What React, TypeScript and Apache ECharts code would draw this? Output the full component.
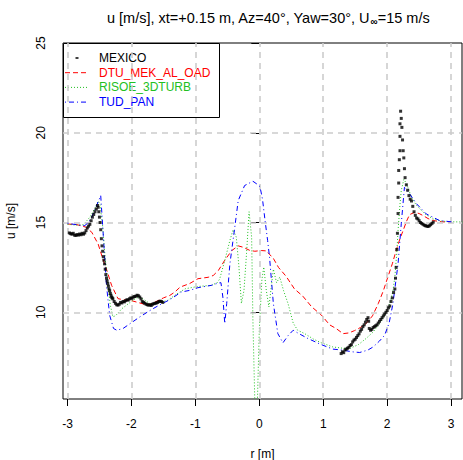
import React, { useEffect, useRef } from "react";
import * as echarts from "echarts";

// ---- data ----
const xTicks = [-3, -2, -1, 0, 1, 2, 3];
const yTicks = [10, 15, 20, 25];
const gridX = [-3, -2, -1, 0, 1, 2, 3];
const gridY = [10, 15, 20];

const mexico: [number, number][] = [
  [-2.97, 14.42], [-2.95, 14.38], [-2.93, 14.35], [-2.91, 14.4], [-2.89, 14.3], [-2.87, 14.28], [-2.85, 14.33],
  [-2.83, 14.3], [-2.81, 14.36], [-2.79, 14.32], [-2.77, 14.4], [-2.75, 14.35], [-2.73, 14.42], [-2.71, 14.55],
  [-2.69, 14.7], [-2.67, 14.8], [-2.65, 14.9], [-2.63, 15.1], [-2.61, 15.3], [-2.59, 15.45], [-2.57, 15.6],
  [-2.55, 15.75], [-2.53, 15.95], [-2.52, 15.85], [-2.51, 15.6], [-2.5, 15.3], [-2.49, 15.0], [-2.48, 14.6],
  [-2.47, 14.1], [-2.46, 13.7], [-2.45, 13.4], [-2.44, 13.1], [-2.43, 12.9], [-2.42, 12.7], [-2.41, 12.4],
  [-2.4, 12.1], [-2.39, 11.9], [-2.38, 11.75], [-2.37, 11.6], [-2.36, 11.45], [-2.35, 11.3], [-2.34, 11.2],
  [-2.33, 11.05], [-2.32, 10.95], [-2.31, 10.85], [-2.3, 10.8], [-2.29, 10.75], [-2.27, 10.6], [-2.25, 10.5],
  [-2.23, 10.42], [-2.21, 10.4], [-2.19, 10.45], [-2.17, 10.55], [-2.15, 10.52], [-2.13, 10.6], [-2.11, 10.58],
  [-2.09, 10.65], [-2.07, 10.7], [-2.05, 10.68], [-2.03, 10.75], [-2.01, 10.8], [-1.99, 10.78], [-1.97, 10.85],
  [-1.95, 10.88], [-1.93, 10.9], [-1.91, 10.95], [-1.89, 10.92], [-1.87, 10.85], [-1.85, 10.75], [-1.83, 10.6],
  [-1.81, 10.55], [-1.79, 10.5], [-1.77, 10.45], [-1.75, 10.42], [-1.73, 10.4], [-1.71, 10.42], [-1.69, 10.38],
  [-1.67, 10.45], [-1.65, 10.48], [-1.63, 10.5], [-1.61, 10.52], [-1.59, 10.55], [-1.57, 10.6], [-1.55, 10.62],
  [-1.53, 10.6], [-1.51, 10.55],
  [1.28, 7.7], [1.3, 7.8], [1.32, 7.75], [1.34, 7.9], [1.36, 7.95], [1.38, 8.0], [1.4, 8.05], [1.42, 8.15],
  [1.44, 8.2], [1.46, 8.35], [1.48, 8.45], [1.5, 8.5], [1.52, 8.6], [1.54, 8.7], [1.56, 8.8], [1.58, 8.95],
  [1.6, 9.05], [1.62, 9.2], [1.64, 9.3], [1.66, 9.45], [1.68, 9.6], [1.7, 9.7], [1.71, 9.5], [1.72, 9.1],
  [1.74, 9.0], [1.76, 9.05], [1.78, 9.15], [1.8, 9.2], [1.82, 9.25], [1.84, 9.3], [1.86, 9.4], [1.88, 9.5],
  [1.9, 9.6], [1.92, 9.7], [1.94, 9.8], [1.96, 9.9], [1.98, 10.0], [2.0, 10.1], [2.02, 10.25], [2.04, 10.35],
  [2.06, 10.6], [2.08, 10.8], [2.1, 11.1], [2.12, 11.3], [2.13, 11.9], [2.14, 12.5], [2.15, 13.5], [2.16, 14.4],
  [2.17, 15.5], [2.17, 16.4], [2.18, 17.2], [2.18, 17.9], [2.19, 18.5], [2.2, 19.0], [2.2, 19.8], [2.2, 20.5],
  [2.21, 21.2], [2.22, 20.8], [2.23, 20.3], [2.24, 19.6], [2.25, 19.0], [2.26, 18.6], [2.27, 18.0], [2.28, 17.5],
  [2.3, 17.1], [2.32, 16.8], [2.34, 16.5], [2.36, 16.3], [2.38, 16.2], [2.4, 15.9], [2.42, 15.6], [2.44, 15.4],
  [2.46, 15.25], [2.48, 15.2], [2.5, 15.1], [2.52, 15.0], [2.54, 14.95], [2.56, 14.9], [2.58, 14.85], [2.6, 14.82],
  [2.62, 14.8], [2.64, 14.78], [2.66, 14.82], [2.68, 14.88], [2.7, 14.95], [2.72, 15.02],
];

const dtu: [number, number][] = [
  [-3.0, 14.92], [-2.85, 14.88], [-2.72, 14.75], [-2.62, 14.46], [-2.52, 13.8], [-2.45, 13.0], [-2.39, 12.4],
  [-2.31, 11.5], [-2.21, 10.76], [-2.1, 10.68], [-2.02, 10.67], [-1.9, 10.55], [-1.8, 10.45], [-1.71, 10.44],
  [-1.6, 10.62], [-1.5, 10.8], [-1.4, 10.94], [-1.32, 11.13], [-1.24, 11.4], [-1.09, 11.6], [-0.96, 11.87],
  [-0.8, 11.95], [-0.72, 12.05], [-0.64, 12.33], [-0.54, 12.9], [-0.43, 13.44], [-0.33, 13.7], [-0.25, 13.62],
  [-0.15, 13.45], [-0.07, 13.4], [0.03, 13.44], [0.11, 13.42], [0.22, 13.0], [0.3, 12.5], [0.42, 12.0],
  [0.55, 11.3], [0.68, 10.9], [0.82, 10.3], [0.97, 9.85], [1.1, 9.3], [1.2, 9.1], [1.31, 8.81], [1.4, 8.85],
  [1.49, 8.98], [1.58, 9.15], [1.67, 9.37], [1.77, 9.8], [1.86, 10.48], [1.94, 11.2], [2.01, 11.96], [2.08, 12.7],
  [2.14, 13.44], [2.2, 14.1], [2.25, 14.56], [2.3, 15.05], [2.35, 15.44], [2.43, 15.57], [2.5, 15.5],
  [2.56, 15.39], [2.64, 15.22], [2.72, 15.11], [2.85, 15.04], [3.0, 15.02],
];

const risoe: [number, number][] = [
  [-3.0, 14.9], [-2.85, 14.85], [-2.75, 14.88], [-2.65, 15.3], [-2.57, 15.8], [-2.52, 16.2], [-2.49, 16.0],
  [-2.45, 14.8], [-2.41, 13.0], [-2.37, 11.6], [-2.33, 10.4], [-2.29, 9.75], [-2.25, 9.8], [-2.15, 10.2],
  [-2.02, 10.55], [-1.93, 10.78], [-1.87, 10.85], [-1.8, 10.7], [-1.71, 10.48], [-1.6, 10.5], [-1.5, 10.6],
  [-1.43, 10.67], [-1.3, 11.0], [-1.16, 11.31], [-0.96, 11.44], [-0.75, 11.5], [-0.66, 11.65], [-0.62, 11.85],
  [-0.54, 12.89], [-0.46, 14.0], [-0.41, 14.6], [-0.36, 14.19], [-0.32, 12.6], [-0.28, 10.5], [-0.24, 11.2],
  [-0.2, 13.26], [-0.16, 15.6], [-0.12, 14.19], [-0.1, 9.56], [-0.07, 5.0], [-0.05, 4.0], [-0.03, 5.0],
  [0.0, 9.0], [0.04, 11.8], [0.07, 12.52], [0.11, 11.2], [0.15, 10.3], [0.19, 11.5], [0.22, 12.4],
  [0.27, 11.65], [0.32, 11.96], [0.38, 11.2], [0.45, 10.48], [0.53, 9.4], [0.6, 9.0], [0.71, 8.81],
  [0.85, 8.5], [0.97, 8.3], [1.15, 8.07], [1.3, 8.0], [1.41, 7.98], [1.55, 8.2], [1.67, 8.54], [1.78, 8.9],
  [1.88, 9.37], [1.97, 9.9], [2.04, 10.48], [2.09, 11.2], [2.12, 11.96], [2.15, 13.3], [2.17, 14.56],
  [2.2, 16.0], [2.22, 16.78], [2.26, 17.4], [2.28, 17.3], [2.32, 17.0], [2.38, 16.4], [2.45, 16.0],
  [2.51, 15.76], [2.6, 15.45], [2.72, 15.2], [2.85, 15.08], [3.0, 15.04], [3.18, 15.03],
];

const tud: [number, number][] = [
  [-3.0, 14.96], [-2.9, 14.9], [-2.8, 14.85], [-2.73, 14.83], [-2.67, 15.0], [-2.62, 15.3], [-2.55, 15.9],
  [-2.48, 16.5], [-2.44, 14.28], [-2.39, 11.5], [-2.34, 9.83], [-2.28, 9.1], [-2.23, 9.0], [-2.13, 9.1],
  [-2.02, 9.37], [-1.87, 9.74], [-1.71, 10.1], [-1.55, 10.43], [-1.4, 10.7], [-1.22, 11.13], [-1.09, 11.22],
  [-0.96, 11.37], [-0.75, 11.5], [-0.64, 11.63], [-0.6, 11.65], [-0.57, 10.85], [-0.54, 9.37], [-0.51, 10.48],
  [-0.46, 12.7], [-0.38, 14.83], [-0.33, 16.22], [-0.23, 17.06], [-0.1, 17.3], [-0.04, 17.15], [0.01, 17.0],
  [0.05, 16.3], [0.09, 15.11], [0.13, 14.0], [0.16, 13.07], [0.22, 10.48], [0.29, 8.81], [0.37, 8.3],
  [0.45, 8.7], [0.53, 9.0], [0.6, 8.85], [0.76, 8.54], [0.97, 8.2], [1.15, 7.95], [1.31, 7.89], [1.45, 7.8],
  [1.57, 7.76], [1.7, 7.9], [1.78, 8.07], [1.88, 8.4], [1.96, 8.72], [2.03, 9.4], [2.09, 10.48], [2.17, 12.7],
  [2.22, 14.93], [2.27, 16.96], [2.35, 16.6], [2.46, 16.04], [2.61, 15.48], [2.82, 15.11], [3.03, 15.03],
];

const seriesNames = ["MEXICO", "DTU_MEK_AL_OAD", "RISOE_3DTURB", "TUD_PAN"];
const seriesColors = ["#000000", "#ff0000", "#22c022", "#0000ff"];
const seriesDash: number[][] = [[], [5, 3], [1, 2], [1, 3, 5, 3]];

const FONT = "'Liberation Sans', Arial, sans-serif";

export default function App() {
  const ref = useRef<HTMLDivElement>(null);
  useEffect(() => {
    if (!ref.current) return;
    const chart = echarts.init(ref.current, undefined, { renderer: "svg" });
    const legendItems: any[] = [];
    seriesNames.forEach((name, i) => {
      const y = 58 + i * 14.7;
      if (i === 0) {
        legendItems.push({
          type: "rect",
          shape: { x: 75.5, y: y - 0.75, width: 3, height: 1.5 },
          style: { fill: "#000" },
        });
      } else {
        legendItems.push({
          type: "line",
          shape: { x1: 65, y1: y, x2: 88, y2: y },
          style: { stroke: seriesColors[i], lineWidth: 1, lineDash: seriesDash[i] },
        });
      }
      legendItems.push({
        type: "text",
        x: 99,
        y,
        style: {
          text: name,
          fill: i === 0 ? "#000" : seriesColors[i],
          fontSize: 12,
          fontFamily: FONT,
          verticalAlign: "middle",
        },
      });
    });

    chart.setOption({
      animation: false,
      textStyle: { fontFamily: FONT },
      title: {
        text: "{a|u [m/s], xt=+0.15 m, Az=40°, Yaw=30°, U}{s|∞}{a|=15 m/s}",
        left: 102,
        top: 5,
        textStyle: {
          rich: {
            a: { fontSize: 14.5, fontFamily: FONT, color: "#000", fontWeight: "normal" },
            s: { fontSize: 10, fontFamily: FONT, color: "#000", padding: [6, 0, 0, 0] },
          },
        },
      },
      grid: {
        left: 63,
        right: 1,
        top: 43,
        bottom: 61,
        show: true,
        borderColor: "#000",
        borderWidth: 1,
        backgroundColor: "transparent",
        outerBoundsMode: "none",
        containLabel: false,
      },
      xAxis: {
        type: "value",
        min: -3.07,
        max: 3.17,
        name: "r [m]",
        nameLocation: "middle",
        nameGap: 49,
        nameTextStyle: { fontSize: 12, color: "#000", fontFamily: FONT },
        axisLine: { show: false },
        splitLine: { show: false },
        axisTick: { show: true, length: 7, customValues: xTicks, lineStyle: { color: "#000" } },
        axisLabel: { customValues: xTicks, margin: 19, fontSize: 12, color: "#000", fontFamily: FONT },
      },
      yAxis: {
        type: "value",
        min: 5.17,
        max: 25,
        name: "u [m/s]",
        nameLocation: "middle",
        nameRotate: 90,
        nameGap: 46,
        nameTextStyle: { fontSize: 12, color: "#000", fontFamily: FONT },
        axisLine: { show: false },
        splitLine: { show: false },
        axisTick: { show: true, length: 8, customValues: yTicks, lineStyle: { color: "#000" } },
        axisLabel: { customValues: yTicks, rotate: 90, margin: 16, fontSize: 12, color: "#000", fontFamily: FONT },
      },
      graphic: [
        {
          type: "group",
          z: 100,
          children: [
            {
              type: "rect",
              shape: { x: 63.5, y: 43.5, width: 156, height: 74 },
              style: { fill: "#fff", stroke: "#000", lineWidth: 1 },
            },
            ...legendItems,
          ],
        },
      ],
      series: [
        {
          type: "line",
          name: "grid",
          data: [],
          z: 1,
          silent: true,
          markLine: {
            silent: true,
            symbol: ["none", "none"],
            label: { show: false },
            lineStyle: { type: [6, 5], color: "#cccccc", width: 1.6 },
            data: [...gridX.map((v) => ({ xAxis: v })), ...gridY.map((v) => ({ yAxis: v }))],
          },
        },
        {
          type: "line",
          name: seriesNames[1],
          data: dtu,
          z: 3,
          showSymbol: false,
          lineStyle: { color: seriesColors[1], width: 1, type: seriesDash[1] },
        },
        {
          type: "line",
          name: seriesNames[2],
          data: risoe,
          z: 4,
          showSymbol: false,
          lineStyle: { color: seriesColors[2], width: 1, type: seriesDash[2] },
        },
        {
          type: "line",
          name: seriesNames[3],
          data: tud,
          z: 5,
          showSymbol: false,
          lineStyle: { color: seriesColors[3], width: 1, type: seriesDash[3] },
        },
        {
          type: "scatter",
          name: seriesNames[0],
          data: mexico,
          z: 6,
          symbol: "rect",
          symbolSize: [3, 3],
          itemStyle: { color: "#000" },
        },
      ],
    });
    return () => chart.dispose();
  }, []);
  return (
    <div
      ref={ref}
      style={{ position: "fixed", left: 0, top: 0, width: 463, height: 460, background: "#fff" }}
    />
  );
}
